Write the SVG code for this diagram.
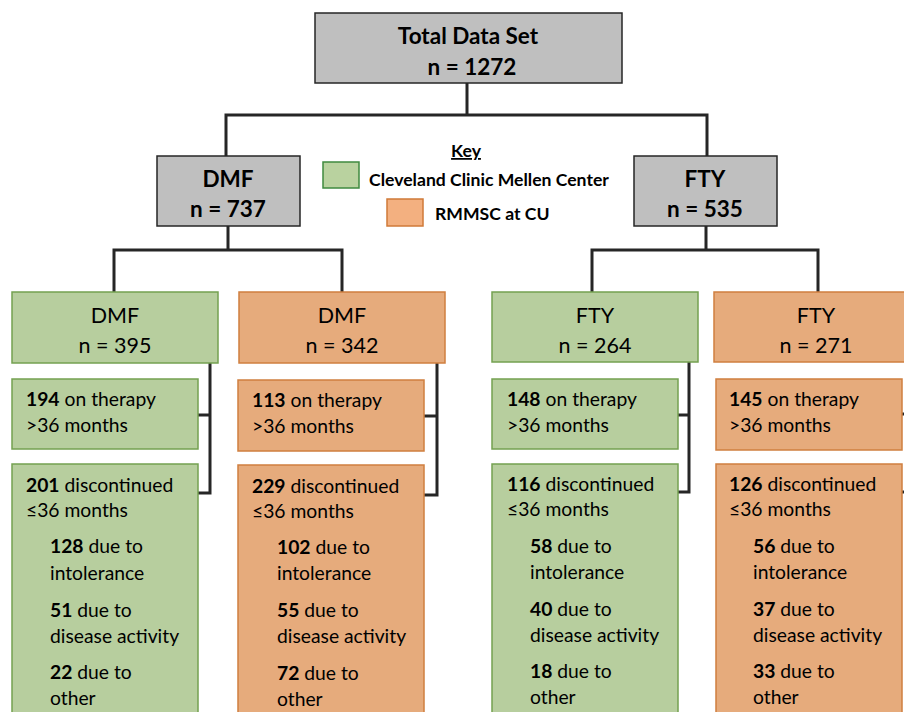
<svg xmlns="http://www.w3.org/2000/svg" width="904" height="712" viewBox="0 0 904 712">
<style>
text{font-family:Lato,"Open Sans","Liberation Sans",sans-serif;fill:#000}
.b{font-weight:bold}
.top{font-size:22.5px;font-weight:bold;text-anchor:middle}
.l2{font-size:21.5px;text-anchor:middle}
.t{font-size:19.3px}
.key{font-size:17.6px;font-weight:bold}
.grey{fill:#bfbfbf;stroke:#262626;stroke-width:1.5}
.green{fill:#b7ce9e;stroke:#74a150;stroke-width:1.5}
.orange{fill:#e6ab7c;stroke:#cf7f3f;stroke-width:1.5}
.conn{fill:none;stroke:#262626;stroke-width:3;stroke-linejoin:miter}
</style>
<rect width="904" height="712" fill="#fff"/>
<g id="connectors">
<path class="conn" d="M467 83V115M226 156V115H707V156"/>
<path class="conn" d="M228 226V250M114 292V250H342V292"/>
<path class="conn" d="M706 226V250M592 292V250H818V292"/>
<path class="conn" d="M210 363V493H198M198 415H210"/>
<path class="conn" d="M437 363V495H424M424 416H437"/>
<path class="conn" d="M689 362V492H678M678 415H689"/>
<path class="conn" d="M913 362V492H902M902 414H913"/>
</g>
<g id="total">
<rect class="grey" x="315" y="13" width="307" height="70"/>
<text class="top" x="468" y="44">Total Data Set</text>
<text class="top" x="472" y="75">n = 1272</text>
</g>
<g id="key">
<text class="key" x="466" y="157" text-anchor="middle" text-decoration="underline">Key</text>
<rect x="323" y="162" width="36" height="26" fill="#b9d29f" stroke="#3f8a3f" stroke-width="1.5"/>
<text class="key" x="369" y="186">Cleveland Clinic Mellen Center</text>
<rect x="387" y="199" width="36" height="27" fill="#f3b080" stroke="#d07a38" stroke-width="1.5"/>
<text class="key" x="435" y="220">RMMSC at CU</text>
</g>
<g id="dmf">
<rect class="grey" x="157" y="156" width="143" height="70"/>
<text class="top" x="228" y="187">DMF</text>
<text class="top" x="228" y="217">n = 737</text>
</g>
<g id="fty">
<rect class="grey" x="634" y="156" width="143" height="70"/>
<text class="top" x="705" y="187">FTY</text>
<text class="top" x="705" y="217">n = 535</text>
</g>
<g id="dmf-cc">
<rect class="green" x="12" y="292" width="206" height="71"/>
<text class="l2" x="115" y="323">DMF</text>
<text class="l2" x="115" y="353">n = 395</text>
</g>
<g id="dmf-cu">
<rect class="orange" x="239" y="292" width="206" height="71"/>
<text class="l2" x="342" y="323">DMF</text>
<text class="l2" x="342" y="353">n = 342</text>
</g>
<g id="fty-cc">
<rect class="green" x="492" y="292" width="206" height="70"/>
<text class="l2" x="595" y="323">FTY</text>
<text class="l2" x="595" y="353">n = 264</text>
</g>
<g id="fty-cu">
<rect class="orange" x="714" y="292" width="206" height="70"/>
<text class="l2" x="816" y="323">FTY</text>
<text class="l2" x="816" y="353">n = 271</text>
</g>
<g id="dmf-cc-on">
<rect class="green" x="12" y="379" width="186" height="70"/>
<text class="t" x="26" y="406"><tspan class="b">194</tspan> on therapy</text>
<text class="t" x="26" y="432">&gt;36 months</text>
</g>
<g id="dmf-cu-on">
<rect class="orange" x="238" y="380" width="186" height="71"/>
<text class="t" x="252" y="407"><tspan class="b">113</tspan> on therapy</text>
<text class="t" x="252" y="433">&gt;36 months</text>
</g>
<g id="fty-cc-on">
<rect class="green" x="492" y="379" width="186" height="70"/>
<text class="t" x="507" y="406"><tspan class="b">148</tspan> on therapy</text>
<text class="t" x="507" y="432">&gt;36 months</text>
</g>
<g id="fty-cu-on">
<rect class="orange" x="716" y="379" width="186" height="71"/>
<text class="t" x="729" y="406"><tspan class="b">145</tspan> on therapy</text>
<text class="t" x="729" y="432">&gt;36 months</text>
</g>
<g id="dmf-cc-disc">
<rect class="green" x="12" y="464" width="186" height="260"/>
<text class="t" x="26" y="492"><tspan class="b">201</tspan> discontinued</text>
<text class="t" x="26" y="517">≤36 months</text>
<text class="t" x="50" y="553"><tspan class="b">128</tspan> due to</text>
<text class="t" x="50" y="580">intolerance</text>
<text class="t" x="50" y="617"><tspan class="b">51</tspan> due to</text>
<text class="t" x="50" y="643">disease activity</text>
<text class="t" x="50" y="679"><tspan class="b">22</tspan> due to</text>
<text class="t" x="50" y="705">other</text>
</g>
<g id="dmf-cu-disc">
<rect class="orange" x="238" y="465" width="186" height="260"/>
<text class="t" x="252" y="493"><tspan class="b">229</tspan> discontinued</text>
<text class="t" x="252" y="518">≤36 months</text>
<text class="t" x="277" y="554"><tspan class="b">102</tspan> due to</text>
<text class="t" x="277" y="580">intolerance</text>
<text class="t" x="277" y="617"><tspan class="b">55</tspan> due to</text>
<text class="t" x="277" y="643">disease activity</text>
<text class="t" x="277" y="680"><tspan class="b">72</tspan> due to</text>
<text class="t" x="277" y="706">other</text>
</g>
<g id="fty-cc-disc">
<rect class="green" x="492" y="464" width="186" height="260"/>
<text class="t" x="507" y="491"><tspan class="b">116</tspan> discontinued</text>
<text class="t" x="507" y="516">≤36 months</text>
<text class="t" x="530" y="553"><tspan class="b">58</tspan> due to</text>
<text class="t" x="530" y="579">intolerance</text>
<text class="t" x="530" y="616"><tspan class="b">40</tspan> due to</text>
<text class="t" x="530" y="642">disease activity</text>
<text class="t" x="530" y="678"><tspan class="b">18</tspan> due to</text>
<text class="t" x="530" y="704">other</text>
</g>
<g id="fty-cu-disc">
<rect class="orange" x="716" y="464" width="186" height="260"/>
<text class="t" x="729" y="491"><tspan class="b">126</tspan> discontinued</text>
<text class="t" x="729" y="516">≤36 months</text>
<text class="t" x="753" y="553"><tspan class="b">56</tspan> due to</text>
<text class="t" x="753" y="579">intolerance</text>
<text class="t" x="753" y="616"><tspan class="b">37</tspan> due to</text>
<text class="t" x="753" y="642">disease activity</text>
<text class="t" x="753" y="678"><tspan class="b">33</tspan> due to</text>
<text class="t" x="753" y="704">other</text>
</g>
</svg>
